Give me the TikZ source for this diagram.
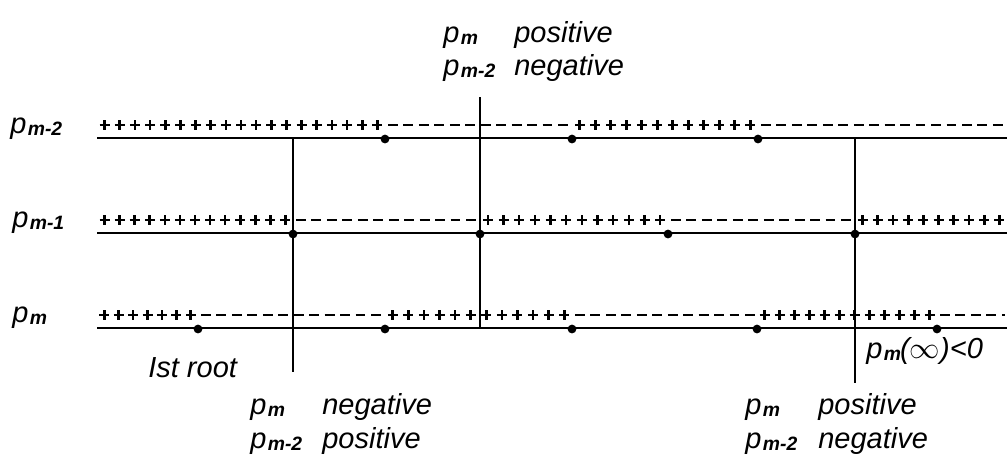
\documentclass[tikz,border=0pt]{standalone}
\usepackage{fontspec}
\setmainfont{Liberation Sans}
\usetikzlibrary{calc}
\newcommand\pl[1]{\textit{p}\kern0.8pt\raisebox{-0.15ex}{\fontsize{11}{11}\selectfont\bfseries\itshape #1}}
\newcommand\plusrun[3]{%
  \pgfmathtruncatemacro\nplus{round((#2-#1)/15.5)}%
  \pgfmathsetmacro\splus{(#2-#1)/\nplus}%
  \foreach \k in {1,...,\nplus}{%
    \pgfmathsetmacro\cx{#1+(\k-0.5)*\splus}%
    \draw[signline] (\cx-5,#3) -- (\cx+5,#3) (\cx,#3-5) -- (\cx,#3+5);
  }}
\newcommand\minusrun[3]{\draw[minusline] (#1+3,#3) -- (#2-2,#3);}
\begin{document}
\begin{tikzpicture}[x=0.02cm,y=-0.02cm,
  font=\fontsize{16.5}{18}\selectfont\itshape,
  axisline/.style={line width=1.5pt},
  vline/.style={line width=1.3pt},
  signline/.style={line width=1.5pt},
  minusline/.style={line width=1.5pt, dash pattern=on 5.6pt off 3.2pt},
  rootdot/.style={circle, fill, inner sep=0pt, minimum size=5pt},
  lbl/.style={anchor=base west, inner sep=0pt}]
\useasboundingbox (0,0) rectangle (1007,464);

% row labels
\node[lbl] (lA) at (10,133) {\pl{m-2}};
\node[lbl] (lB) at (12,227) {\pl{m-1}};
\node[lbl] (lC) at (12,322) {\pl{m}};

% axis lines
\coordinate (a0) at (97,138); \coordinate (a1) at (1007,138);
\coordinate (b0) at (97,233); \coordinate (b1) at (1007,233);
\coordinate (c0) at (97,328); \coordinate (c1) at (1007,328);
\draw[axisline] (a0) -- (a1);
\draw[axisline] (b0) -- (b1);
\draw[axisline] (c0) -- (c1);

% vertical lines
\coordinate (v1t) at (293,138); \coordinate (v1b) at (293,372);
\coordinate (v2t) at (480,97);  \coordinate (v2b) at (480,328);
\coordinate (v3t) at (855,138); \coordinate (v3b) at (855,383);
\draw[vline] (v1t) -- (v1b);
\draw[vline] (v2t) -- (v2b);
\draw[vline] (v3t) -- (v3b);

% sign rows
\plusrun{97}{385}{125}  \minusrun{385}{572}{125} \plusrun{572}{758}{125} \minusrun{758}{1007}{125}
\plusrun{97}{293}{220}  \minusrun{293}{480}{220} \plusrun{480}{668}{220} \minusrun{668}{855}{220} \plusrun{855}{1007}{220}
\plusrun{97}{198}{315}  \minusrun{198}{385}{315} \plusrun{385}{572}{315} \minusrun{572}{757}{315} \plusrun{757}{937}{315} \minusrun{937}{1007}{315}

% roots
\node[rootdot] (rA1) at (385,139) {};
\node[rootdot] (rA2) at (572,139) {};
\node[rootdot] (rA3) at (758,139) {};
\node[rootdot] (rB1) at (293,234) {};
\node[rootdot] (rB2) at (480,234) {};
\node[rootdot] (rB3) at (668,234) {};
\node[rootdot] (rB4) at (855,234) {};
\node[rootdot] (rC1) at (198,329) {};
\node[rootdot] (rC2) at (385,329) {};
\node[rootdot] (rC3) at (572,329) {};
\node[rootdot] (rC4) at (757,329) {};
\node[rootdot] (rC5) at (937,329) {};

% top annotation
\node[lbl] (t1) at (443,42) {\pl{m}};
\node[lbl] (t2) at (514,42) {positive};
\node[lbl] (t3) at (443,75) {\pl{m-2}};
\node[lbl] (t4) at (514,75) {negative};

% bottom left annotation
\node[lbl] (fr) at (148,377) {Ist root};
\node[lbl] (b1) at (250,414) {\pl{m}};
\node[lbl] (b2) at (322,414) {negative};
\node[lbl] (b3) at (250,448) {\pl{m-2}};
\node[lbl] (b4) at (322,448) {positive};

% bottom right annotation
\node[lbl] (inf) at (866,358) {\pl{m}\kern-0.5pt(\(\infty\))<0};
\node[lbl] (c1l) at (745,414) {\pl{m}};
\node[lbl] (c2l) at (818,414) {positive};
\node[lbl] (c3l) at (745,448) {\pl{m-2}};
\node[lbl] (c4l) at (818,448) {negative};
\end{tikzpicture}
\end{document}
